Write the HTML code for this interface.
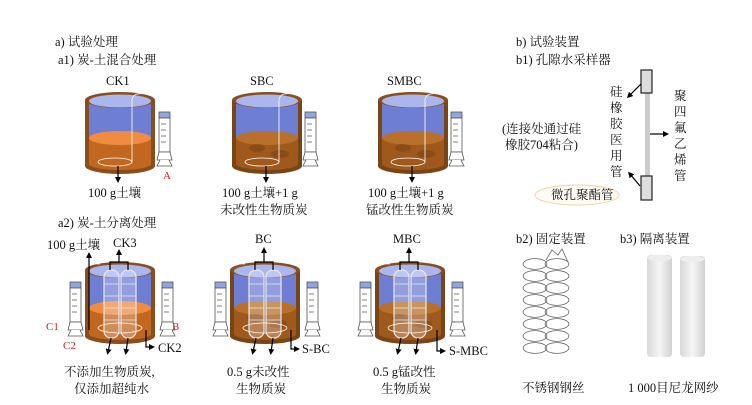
<!DOCTYPE html>
<html><head><meta charset="utf-8"><style>
html,body{margin:0;padding:0;background:#fff;}
svg{display:block;}
text{font-family:"Liberation Serif","Noto Serif CJK SC",serif;fill:#111;}
</style></head><body>
<svg width="752" height="405" viewBox="0 0 752 405" xmlns="http://www.w3.org/2000/svg">
<defs>
<g id="bk">
  <path d="M0,8 L0,74 A35,8 0 0 0 70,74 L70,8 Z" fill="#8a4e1c"/>
  <path d="M4,10 L4,46 L66,46 L66,10 Z" fill="#6e7ed2"/>
  <path d="M4,46 L4,72 A31,6 0 0 0 66,72 L66,46 Z" fill="#c2671f"/>
  <ellipse cx="35" cy="46" rx="31" ry="7" fill="#ef8c42"/>
  <ellipse cx="35" cy="8" rx="35" ry="8" fill="#8a4e1c"/>
  <ellipse cx="35" cy="9" rx="31" ry="6.5" fill="#aab6ec"/>
</g>
<g id="bkd">
  <path d="M0,8 L0,74 A35,8 0 0 0 70,74 L70,8 Z" fill="#7a4516"/>
  <path d="M4,10 L4,46 L66,46 L66,10 Z" fill="#6e7ed2"/>
  <path d="M4,46 L4,72 A31,6 0 0 0 66,72 L66,46 Z" fill="#a0591c"/>
  <ellipse cx="35" cy="46" rx="31" ry="7" fill="#b8702a"/>
  <ellipse cx="25" cy="56" rx="8" ry="4" fill="#7a4516" opacity=".6"/>
  <ellipse cx="48" cy="62" rx="9" ry="4" fill="#7a4516" opacity=".6"/>
  <ellipse cx="35" cy="8" rx="35" ry="8" fill="#8a4e1c"/>
  <ellipse cx="35" cy="9" rx="31" ry="6.5" fill="#aab6ec"/>
</g>
<g id="syr" fill="#fff" stroke="#555" stroke-width="0.8">
  <rect x="0" y="0" width="11" height="6" fill="#8fa6e0"/>
  <rect x="0" y="6" width="11" height="34"/>
  <path d="M2,12h5M2,18h5M2,24h5M2,30h5" />
  <path d="M0,40 L-2,48 L13,48 L11,40 Z"/>
  <path d="M1,48 L-2,54 L13,54 L10,48"/>
</g>
<g id="tubes" fill="none" stroke="#e8e8f0" stroke-width="1.2">
  <rect x="19" y="8" width="15" height="68" rx="7" fill="#ffffff" fill-opacity=".25"/>
  <rect x="36" y="8" width="15" height="68" rx="7" fill="#ffffff" fill-opacity=".25"/>
  <path d="M19,22h15M19,34h15M19,46h15M19,58h15M36,22h15M36,34h15M36,46h15M36,58h15" stroke-width=".7"/>
</g>
<g id="coil" fill="none" stroke="#666" stroke-width="0.8">
  <path d="M-11,2 A11,5 0 0 1 11,-2 A11,5 0 0 1 -11,2 Z"/>
</g>
<marker id="ar" viewBox="0 0 10 10" refX="5" refY="5" markerWidth="5" markerHeight="5" orient="auto"><path d="M0,0 L10,5 L0,10 Z" fill="#000"/></marker>
</defs>

<g font-size="12.5">
<text x="55" y="46">a) 试验处理</text>
<text x="58" y="64">a1) 炭-土混合处理</text>
<text x="106" y="85">CK1</text>
<text x="250" y="85">SBC</text>
<text x="387" y="85">SMBC</text>
</g>

<use href="#bk" x="85" y="92"/>
<use href="#bkd" x="232" y="92"/>
<use href="#bkd" x="378" y="92"/>
<g fill="none" stroke="#fff" stroke-width="0.8">
 <ellipse cx="115" cy="162" rx="17" ry="4"/><path d="M132,162 V100 Q133,92 145,94 Q160,96 162,112"/>
 <ellipse cx="262" cy="162" rx="17" ry="4"/><path d="M279,162 V100 Q280,92 292,94 Q307,96 309,112"/>
 <ellipse cx="408" cy="162" rx="17" ry="4"/><path d="M425,162 V100 Q426,92 438,94 Q453,96 455,112"/>
</g>
<use href="#syr" x="159" y="112"/>
<use href="#syr" x="305" y="112"/>
<use href="#syr" x="451" y="112"/>
<text x="163" y="179" font-size="11" style="fill:#d02020">A</text>
<g stroke="#000" stroke-width="1.2" marker-end="url(#ar)">
 <line x1="118" y1="166" x2="118" y2="180"/>
 <line x1="266" y1="166" x2="266" y2="180"/>
 <line x1="412" y1="166" x2="412" y2="180"/>
</g>
<g font-size="12.5">
<text x="88" y="197">100 g土壤</text>
<text x="222" y="197">100 g土壤+1 g</text>
<text x="220" y="214">未改性生物质炭</text>
<text x="368" y="197">100 g土壤+1 g</text>
<text x="366" y="214">锰改性生物质炭</text>

<text x="58" y="227">a2) 炭-土分离处理</text>
<text x="47" y="249">100 g土壤</text>
<text x="113" y="247">CK3</text>
<text x="255" y="243">BC</text>
<text x="393" y="243">MBC</text>
</g>

<g>
 <use href="#bk" x="85" y="262"/><use href="#tubes" x="85" y="262"/>
 <use href="#bkd" x="230" y="262"/><use href="#tubes" x="230" y="262"/>
 <use href="#bkd" x="375" y="262"/><use href="#tubes" x="375" y="262"/>
</g>
<g fill="none" stroke="#fff" stroke-width="0.8">
 <ellipse cx="120" cy="328" rx="22" ry="5"/><ellipse cx="265" cy="328" rx="22" ry="5"/><ellipse cx="410" cy="328" rx="22" ry="5"/>
 <path d="M78,282 Q80,262 100,264 M150,264 Q166,262 167,280"/>
 <path d="M222,282 Q225,262 245,264 M295,264 Q311,262 312,280"/>
 <path d="M367,282 Q370,262 390,264 M440,264 Q456,262 457,280"/>
</g>
<use href="#syr" x="70" y="282"/><use href="#syr" x="162" y="282"/>
<use href="#syr" x="215" y="282"/><use href="#syr" x="307" y="282"/>
<use href="#syr" x="360" y="282"/><use href="#syr" x="452" y="282"/>
<text x="46" y="330" font-size="11" style="fill:#d02020">C1</text>
<text x="63" y="349" font-size="11" style="fill:#d02020">C2</text>
<text x="172" y="330" font-size="11" style="fill:#d02020">B</text>
<g stroke="#000" stroke-width="1.2" fill="none">
 <path d="M110,270 V262 H128 V270 M119,262 V252" marker-end="url(#ar)"/>
 <path d="M255,270 V262 H273 V270 M264,262 V250" marker-end="url(#ar)"/>
 <path d="M400,270 V262 H418 V270 M409,262 V250" marker-end="url(#ar)"/>
 <path d="M89,330 V255" marker-end="url(#ar)"/>
 <line x1="111" y1="338" x2="108" y2="352" marker-end="url(#ar)"/><line x1="128" y1="338" x2="126" y2="352" marker-end="url(#ar)"/>
 <line x1="256" y1="338" x2="253" y2="352" marker-end="url(#ar)"/><line x1="273" y1="338" x2="271" y2="352" marker-end="url(#ar)"/>
 <line x1="401" y1="338" x2="398" y2="352" marker-end="url(#ar)"/><line x1="418" y1="338" x2="416" y2="352" marker-end="url(#ar)"/>
 <path d="M146,330 V347 H152" marker-end="url(#ar)"/>
 <path d="M291,330 V349 H297" marker-end="url(#ar)"/>
 <path d="M437,330 V351 H443" marker-end="url(#ar)"/>
</g>
<g font-size="12.5">
<text x="158" y="352">CK2</text>
<text x="302" y="353">S-BC</text>
<text x="449" y="355">S-MBC</text>
<text x="64" y="376">不添加生物质炭,</text>
<text x="74" y="393">仅添加超纯水</text>
<text x="227" y="376">0.5 g未改性</text>
<text x="236" y="393">生物质炭</text>
<text x="373" y="376">0.5 g锰改性</text>
<text x="381" y="393">生物质炭</text>

<text x="516" y="46">b) 试验装置</text>
<text x="516" y="64">b1) 孔隙水采样器</text>
</g>
<rect x="645" y="92" width="5" height="86" fill="#ccc"/>
<rect x="641" y="70" width="11" height="23" fill="#ddd" stroke="#222" stroke-width="1.2"/>
<rect x="641" y="176" width="11" height="24" fill="#ddd" stroke="#222" stroke-width="1.2"/>
<g font-size="12.5">
 <text x="610" y="96">硅</text><text x="610" y="112">橡</text><text x="610" y="128">胶</text><text x="610" y="144">医</text><text x="610" y="160">用</text><text x="610" y="176">管</text>
 <text x="674" y="100">聚</text><text x="674" y="116">四</text><text x="674" y="132">氟</text><text x="674" y="148">乙</text><text x="674" y="164">烯</text><text x="674" y="180">管</text>
 <text x="502" y="133">(连接处通过硅</text>
 <text x="505" y="149">橡胶704粘合)</text>
</g>
<ellipse cx="577" cy="195" rx="42" ry="10" fill="#fffaf4" stroke="#f0d2a8" stroke-width="1"/>
<text x="551" y="199" font-size="12.5">微孔聚酯管</text>
<g stroke="#000" stroke-width="1.2" fill="none">
 <line x1="641" y1="84" x2="629" y2="96" marker-end="url(#ar)"/>
 <line x1="640" y1="186" x2="630" y2="174" marker-end="url(#ar)"/>
 <line x1="650" y1="134" x2="666" y2="134" marker-end="url(#ar)"/>
</g>

<text x="516" y="243" font-size="12.5">b2) 固定装置</text>
<text x="620" y="243" font-size="12.5">b3) 隔离装置</text>
<g>
 <use href="#coil" x="535" y="264"/><use href="#coil" x="535" y="276"/><use href="#coil" x="535" y="288"/><use href="#coil" x="535" y="300"/><use href="#coil" x="535" y="312"/><use href="#coil" x="535" y="324"/><use href="#coil" x="535" y="336"/><use href="#coil" x="535" y="348"/>
 <use href="#coil" x="557" y="264"/><use href="#coil" x="557" y="276"/><use href="#coil" x="557" y="288"/><use href="#coil" x="557" y="300"/><use href="#coil" x="557" y="312"/><use href="#coil" x="557" y="324"/><use href="#coil" x="557" y="336"/><use href="#coil" x="557" y="348"/>
</g>
<path d="M546,260 L552,250 L558,255 L562,249 L568,262" fill="none" stroke="#666" stroke-width="0.8"/>
<defs><linearGradient id="tg" x1="0" x2="1"><stop offset="0" stop-color="#d8d8d8"/><stop offset=".5" stop-color="#f6f6f6"/><stop offset="1" stop-color="#d0d0d0"/></linearGradient></defs>
<rect x="647" y="255" width="25" height="102" rx="4" fill="url(#tg)"/>
<rect x="680" y="256" width="25" height="101" rx="4" fill="url(#tg)"/>
<ellipse cx="659.5" cy="258" rx="12" ry="3" fill="#eee"/>
<ellipse cx="692.5" cy="259" rx="12" ry="3" fill="#eee"/>
<text x="522" y="392" font-size="12.5">不锈钢钢丝</text>
<text x="628" y="392" font-size="12.5">1 000目尼龙网纱</text>
</svg>
</body></html>
